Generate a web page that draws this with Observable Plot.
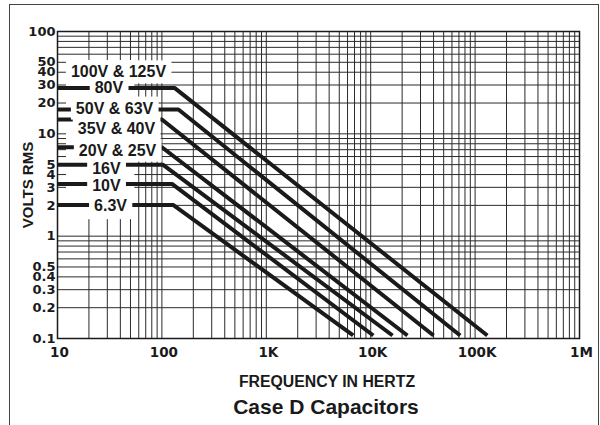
<!DOCTYPE html>
<html><head><meta charset="utf-8">
<script src="https://cdn.jsdelivr.net/npm/d3@7"></script>
<script src="https://cdn.jsdelivr.net/npm/@observablehq/plot@0.6"></script>
<style>
body{margin:0;background:#fff;font-family:"Liberation Sans",Arial,Helvetica,sans-serif;}
#wrap{position:relative;width:600px;height:425px;overflow:hidden;background:#fff;}
#border{position:absolute;left:9px;top:4px;width:588px;height:460px;border:1px solid #444;z-index:3;pointer-events:none;}
#chart{position:absolute;left:0;top:0;z-index:1;}
.t{position:absolute;font-weight:bold;color:#1a1a1a;white-space:nowrap;line-height:1;z-index:2;}
#ytitle{left:27px;top:185px;font-size:15px;transform:translate(-50%,-50%) rotate(-90deg);}
#xtitle{left:177px;width:300px;text-align:center;top:374px;font-size:15.8px;}
#caption{left:176px;width:300px;text-align:center;top:396px;font-size:21px;}
</style></head><body>
<div id="wrap"><div id="border"></div><div id="chart"></div>
<div class="t" id="ytitle">VOLTS RMS</div>
<div class="t" id="xtitle">FREQUENCY IN HERTZ</div>
<div class="t" id="caption">Case D Capacitors</div>
</div>
<script>
// Series: flat rated RMS voltage up to a corner frequency, then roll-off down to ~0.1 V
const seriesNames = ["80V", "50V & 63V", "35V & 40V", "20V & 25V", "16V", "10V", "6.3V"];
const flatVolts   = [28, 17.3, 13.8, 7.4, 5.0, 3.24, 2.02];
const cornerHz    = [133, 144, 100, 100, 102, 125, 128];
const endHz       = [131000, 72000, 40000, 22500, 16200, 10600, 6800];
const endVolts    = 0.107;
const startHz     = 10;

// Curve labels (left column)
const labelTexts = ["100V & 125V", "80V", "50V & 63V", "35V & 40V", "20V & 25V", "16V", "10V", "6.3V"];
const labelHz    = [38.4, 31.1, 35.2, 36.7, 37.6, 29.4, 29.4, 32.2];
const labelVolts = [40, 27.9, 17.7, 11.3, 6.87, 4.58, 3.08, 1.96];

// Axis ticks
const xTicks = [10, 100, 1e3, 1e4, 1e5, 1e6];
const xTickLabels = ["10", "100", "1K", "10K", "100K", "1M"];
const yTicks = [0.1, 0.2, 0.3, 0.4, 0.5, 1, 2, 3, 4, 5, 10, 20, 30, 40, 50, 100];
const yTickLabels = ["0.1", "0.2", "0.3", "0.4", "0.5", "1", "2", "3", "4", "5", "10", "20", "30", "40", "50", "100"];

// log grid
const xGrid = [];
for (let e = 1; e < 6; e++) for (let m = 1; m <= 9; m++) xGrid.push(m * 10 ** e);
xGrid.push(1e6);
const yGrid = [];
for (let e = -1; e < 2; e++) for (let m = 1; m <= 9; m++) yGrid.push(+(m * 10 ** e).toPrecision(3));
yGrid.push(100);

const lineData = seriesNames.flatMap((s, i) => [
  {s, f: startHz, v: flatVolts[i]},
  {s, f: cornerHz[i], v: flatVolts[i]},
  {s, f: endHz[i], v: endVolts}
]);

const ink = "#1a1a1a";
const tickFont = "'DejaVu Sans', sans-serif";
const plot = Plot.plot({
  width: 600, height: 370,
  marginLeft: 57, marginRight: 21, marginTop: 31, marginBottom: 32,
  x: {type: "log", domain: [10, 1e6]},
  y: {type: "log", domain: [0.1, 100], axis: null},
  style: {fontFamily: "'Liberation Sans', Arial, sans-serif", fontWeight: "bold", color: ink, background: "white", fontSize: "14px"},
  marks: [
    Plot.ruleX(xGrid, {stroke: "#2a2a2a", strokeWidth: 1}),
    Plot.ruleY(yGrid, {stroke: "#2a2a2a", strokeWidth: 1}),
    Plot.rect([0], {x1: () => 12.2, x2: () => 55, y1: () => 1.45, y2: () => 52, fill: "white"}),
    Plot.line(lineData, {x: "f", y: "v", z: "s", stroke: ink, strokeWidth: 4, strokeLinejoin: "miter", strokeLinecap: "butt"}),
    Plot.text(labelTexts, {x: (d, i) => labelHz[i], y: (d, i) => labelVolts[i], text: d => d, fontSize: 16, fontWeight: "bold", fill: ink}),
    Plot.frame({stroke: ink, strokeWidth: 1.5}),
    Plot.axisX({ticks: xTicks, tickFormat: d => xTickLabels[xTicks.indexOf(d)], tickSize: 0, tickPadding: 9, dx: 2, fontSize: 13.5, fontFamily: tickFont, label: null}),
    Plot.text(yTicks, {y: d => d, frameAnchor: "left", textAnchor: "end", dx: -2, text: (d, i) => yTickLabels[i], fontSize: 13, fontFamily: tickFont, fontWeight: "bold", fill: ink})
  ]
});
document.getElementById("chart").appendChild(plot);

// white boxes behind curve labels
const NS = "http://www.w3.org/2000/svg";
const labelEls = Array.from(plot.querySelectorAll("text")).filter(t => labelTexts.includes(t.textContent));
if (labelEls.length) {
  const lg = labelEls[0].parentNode;
  const bg = document.createElementNS(NS, "g");
  if (lg.getAttribute("transform")) bg.setAttribute("transform", lg.getAttribute("transform"));
  lg.parentNode.insertBefore(bg, lg);
  labelEls.forEach(t => {
    const b = t.getBBox();
    const r = document.createElementNS(NS, "rect");
    r.setAttribute("x", b.x - 5);
    r.setAttribute("y", b.y - 3);
    r.setAttribute("width", b.width + 10);
    r.setAttribute("height", b.height + 6);
    r.setAttribute("fill", "white");
    if (t.getAttribute("transform")) r.setAttribute("transform", t.getAttribute("transform"));
    bg.appendChild(r);
  });
}
</script>
</body></html>
